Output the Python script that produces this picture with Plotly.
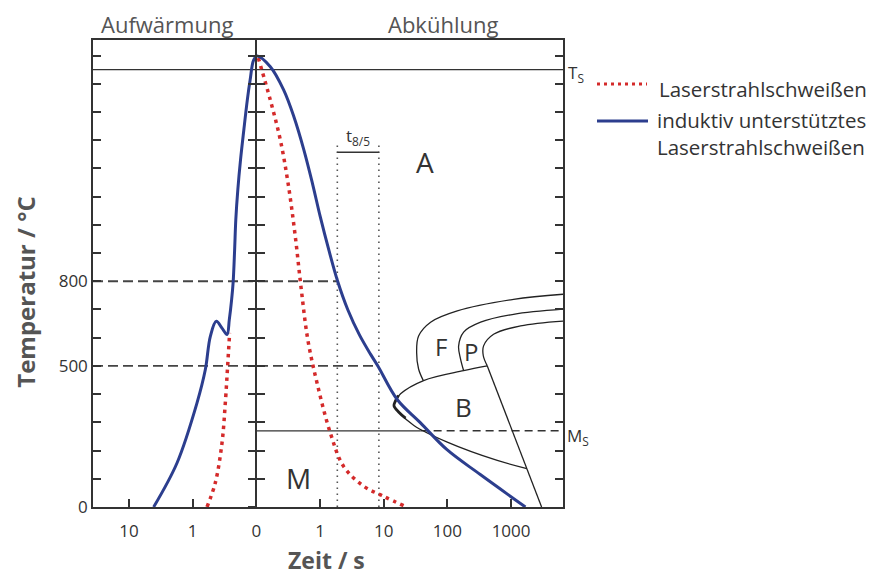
import numpy as np
import plotly.graph_objects as go

# ---------------- data (time in s, temperature in °C) ----------------
# heating branch ("Aufwärmung", time before peak), cooling branch ("Abkühlung")
blue_heat_t = [4.09, 1.758, 0.853, 0.631, 0.527, 0.4246, 0.3457, 0.2884, 0.2654, 0.2443, 0.2313,
               0.2191, 0.2099, 0.1952, 0.177, 0.1571, 0.1385, 0.1251, 0.1102]
blue_heat_T = [0, 156, 369, 487, 605, 658, 634, 611, 664, 734, 795,
               911, 1018, 1124, 1230, 1336, 1442, 1513, 1584]
blue_cool_t = [0.1025, 0.166, 0.2685, 0.389, 0.559, 0.757, 1.011, 1.375, 1.903, 2.732, 4.14, 6.27, 8.23,
               16.4, 37.5, 98.6, 328.6, 1680]
blue_cool_T = [1598, 1560, 1478, 1383, 1265, 1149, 1028, 911, 798, 699, 611, 540, 497,
               380, 299, 203, 115, 0]

red_heat_t = [0.5943, 0.44, 0.3457, 0.3067, 0.2822, 0.2624]
red_heat_T = [0, 86, 227, 369, 498, 617]
red_cool_t = [0.1075, 0.166, 0.2382, 0.318, 0.409, 0.5087, 0.6434, 0.8973, 1.451, 2.347, 4.836, 9.955, 21.8]
red_cool_T = [1591, 1442, 1301, 1142, 959, 770, 593, 440, 263, 144, 74, 38, 2]

# ZTU (CCT) diagram lines
t_end = 6530
f_t = [t_end, 1094, 143, 54.5, 35.3, 32.9, 35.3, 41.9]
f_T = [754, 736, 695, 655, 606, 549, 489, 448]
p_t = [t_end, 1094, 332, 180, 150, 161, 180]
p_T = [701, 683, 655, 620, 570, 524, 483]
pe_t = [t_end, 1409, 531, 370, 366, 423]
pe_T = [659, 642, 612, 571, 536, 500]
diag_t = [423, 3013]
diag_T = [500, 0]
b_t = [423, 180, 42.3, 18.4, 15.4, 14.5, 17.3, 29.8, 99.6, 607, 1770]
b_T = [500, 483, 448, 401, 377, 359, 336, 289, 230, 165, 136]
nose_t = [17.0, 15.4, 14.5, 17.3, 22.0]
nose_T = [395, 377, 359, 336, 315]

T_S = 1550
M_S = 270
M_S_solid_end = 38
t85_start, t85_end = 1.87, 8.4
T800, T500 = 800, 500
t85_top, t85_bar = 1290, 1257

y_tickvals = list(range(0, 1700, 100))
y_ticktext = ["0" if v == 0 else "500" if v == 500 else "800" if v == 800 else "" for v in y_tickvals]
x_tickvals = [-2, -1, 0, 1, 2, 3, 4]
x_ticktext = ["10", "1", "0", "1", "10", "100", "1000"]

X_MIN, X_MAX = -2.564, 4.815
Y_MAX = 1655


def pos_cool(t):
    return np.log10(np.asarray(t, dtype=float) / 0.1)


def pos_heat(t):
    return -np.log10(np.asarray(t, dtype=float) / 0.1)


BLUE = "#2c3e8e"
RED = "#d42a2a"
BLACK = "#222222"
AX = "#333333"
FONT = "Open Sans"

fig = go.Figure()

# helper lines: 800/500 dashed
fig.add_trace(go.Scatter(x=[X_MIN, pos_cool(t85_start)], y=[T800, T800], mode="lines",
                         line=dict(color="#444", width=1.8, dash="10px,5px"), hoverinfo="skip", showlegend=False))
fig.add_trace(go.Scatter(x=[X_MIN, pos_cool(t85_end)], y=[T500, T500], mode="lines",
                         line=dict(color="#444", width=1.8, dash="10px,5px"), hoverinfo="skip", showlegend=False))
# Ts
fig.add_trace(go.Scatter(x=[X_MIN, X_MAX], y=[T_S, T_S], mode="lines",
                         line=dict(color=AX, width=1.3), hoverinfo="skip", showlegend=False))
# Ms
fig.add_trace(go.Scatter(x=[0, pos_cool(M_S_solid_end)], y=[M_S, M_S], mode="lines",
                         line=dict(color=AX, width=1.3), hoverinfo="skip", showlegend=False))
fig.add_trace(go.Scatter(x=[pos_cool(M_S_solid_end), X_MAX], y=[M_S, M_S], mode="lines",
                         line=dict(color=AX, width=1.4, dash="8px,5px"), hoverinfo="skip", showlegend=False))
# t8/5 dotted verticals and bar
for tt in (t85_start, t85_end):
    fig.add_trace(go.Scatter(x=[pos_cool(tt)] * 2, y=[0, t85_top], mode="lines",
                             line=dict(color="#555", width=1.6, dash="1.6px,4.4px"), hoverinfo="skip", showlegend=False))
fig.add_trace(go.Scatter(x=[pos_cool(t85_start), pos_cool(t85_end)], y=[t85_bar, t85_bar], mode="lines",
                         line=dict(color=AX, width=1.6), hoverinfo="skip", showlegend=False))

# CCT lines
for tt, TT in ((f_t, f_T), (p_t, p_T), (pe_t, pe_T), (b_t, b_T)):
    fig.add_trace(go.Scatter(x=pos_cool(tt), y=TT, mode="lines",
                             line=dict(color=BLACK, width=1.3, shape="spline", smoothing=1.0),
                             hoverinfo="skip", showlegend=False))
fig.add_trace(go.Scatter(x=pos_cool(diag_t), y=diag_T, mode="lines",
                         line=dict(color=BLACK, width=1.3), hoverinfo="skip", showlegend=False))
fig.add_trace(go.Scatter(x=pos_cool(nose_t), y=nose_T, mode="lines",
                         line=dict(color=BLACK, width=2.8, shape="spline", smoothing=1.0),
                         hoverinfo="skip", showlegend=False))

# temperature-time curves
fig.add_trace(go.Scatter(x=pos_heat(red_heat_t), y=red_heat_T, mode="lines",
                         line=dict(color=RED, width=3.5, dash="3.5px,4.5px", shape="spline", smoothing=1.0),
                         hoverinfo="skip", showlegend=False))
fig.add_trace(go.Scatter(x=pos_cool(red_cool_t), y=red_cool_T, mode="lines",
                         line=dict(color=RED, width=3.5, dash="3.5px,4.5px", shape="spline", smoothing=1.0),
                         name="Laserstrahlschweißen", showlegend=False))
blue_x = np.concatenate([pos_heat(blue_heat_t), pos_cool(blue_cool_t)])
blue_y = list(blue_heat_T) + list(blue_cool_T)
fig.add_trace(go.Scatter(x=blue_x, y=blue_y, mode="lines",
                         line=dict(color=BLUE, width=3, shape="spline", smoothing=1.0),
                         name="induktiv unterstütztes Laserstrahlschweißen", showlegend=False))

# dummy traces for the middle (t = 0) axis
fig.add_trace(go.Scatter(x=[0], y=[0], yaxis="y3", mode="lines", hoverinfo="skip", showlegend=False))
fig.add_trace(go.Scatter(x=[0], y=[0], yaxis="y4", mode="lines", hoverinfo="skip", showlegend=False))

mid_pos = (0 - X_MIN) / (X_MAX - X_MIN)
common_y = dict(range=[0, Y_MAX], tickvals=y_tickvals, fixedrange=True, showgrid=False, zeroline=False)

fig.update_layout(
    width=892, height=580,
    margin=dict(l=93, r=329, t=40, b=72.5),
    paper_bgcolor="white", plot_bgcolor="white",
    font=dict(family=FONT, color=AX),
    xaxis=dict(range=[X_MIN, X_MAX], tickvals=x_tickvals, ticktext=x_ticktext,
               ticks="inside", ticklen=8, tickwidth=1.5, tickcolor=AX, ticklabelstandoff=8,
               showline=True, linecolor=AX, linewidth=1.5, mirror=True,
               showgrid=False, zeroline=False, tickfont=dict(size=17, color=AX, family=FONT)),
    yaxis=dict(**common_y, ticktext=y_ticktext, ticks="inside", ticklen=8, tickwidth=1.5, tickcolor=AX,
               showline=True, linecolor=AX, linewidth=1.5, mirror="ticks",
               tickfont=dict(size=17, color=AX, family=FONT)),
    yaxis3=dict(**common_y, overlaying="y", anchor="free", position=mid_pos, side="left",
                ticks="outside", ticklen=8, tickwidth=1.5, tickcolor=AX, showticklabels=False,
                showline=True, linecolor=AX, linewidth=1.5),
    yaxis4=dict(**common_y, overlaying="y", anchor="free", position=mid_pos, side="left",
                ticks="inside", ticklen=8, tickwidth=1.5, tickcolor=AX, showticklabels=False,
                showline=False),
    showlegend=False,
)

ann = []
def A(text, x, y, size, xref="x", yref="y", color=AX, bold=False, **kw):
    d = dict(text=("<b>%s</b>" % text) if bold else text, x=x, y=y, xref=xref, yref=yref,
             showarrow=False, font=dict(size=size, color=color, family=FONT),
             xanchor="center", yanchor="middle")
    d.update(kw)
    ann.append(d)

def px2paper_x(px):
    return (px - 93) / 470.0
def px2paper_y(py):
    return (507.5 - py) / 467.5

A("Aufwärmung", px2paper_x(166.5), px2paper_y(24), 22, xref="paper", yref="paper", color="#555")
A("Abkühlung", px2paper_x(443), px2paper_y(24), 22, xref="paper", yref="paper", color="#555")
A("Zeit / s", px2paper_x(326), px2paper_y(561), 23, xref="paper", yref="paper", color="#555", bold=True,
  borderpad=0)
A("Temperatur / °C", px2paper_x(26), px2paper_y(293), 24, xref="paper", yref="paper", color="#555",
  bold=True, textangle=-90)
A("A", float(pos_cool(45)), 1223, 28)
A("M", float(pos_cool(0.456)), 104, 28)
A("F", float(pos_cool(80)), 570, 24)
A("P", float(pos_cool(237)), 550, 24)
A("B", float(pos_cool(177)), 356, 26)
A("t<sub>8/5</sub>", float(pos_cool(3.92)), 1312, 17)
A("T<sub>S</sub>", 1, 1535, 17, xref="paper", xanchor="left", xshift=3)
A("M<sub>S</sub>", 1, 250, 17, xref="paper", xanchor="left", xshift=2)

# legend (manual)
shapes = [
    dict(type="line", xref="paper", yref="paper", x0=px2paper_x(597), x1=px2paper_x(647),
         y0=px2paper_y(84), y1=px2paper_y(84), line=dict(color=RED, width=3, dash="3px,4px")),
    dict(type="line", xref="paper", yref="paper", x0=px2paper_x(597), x1=px2paper_x(648),
         y0=px2paper_y(121), y1=px2paper_y(121), line=dict(color=BLUE, width=3)),
]
A("Laserstrahlschweißen", px2paper_x(657), px2paper_y(89), 20.5, xref="paper", yref="paper",
  xanchor="left", align="left")
A("induktiv unterstütztes<br>Laserstrahlschweißen", px2paper_x(655), px2paper_y(134), 20.5,
  xref="paper", yref="paper", xanchor="left", align="left")

fig.update_layout(annotations=ann, shapes=shapes)
fig.write_html("out.html")
